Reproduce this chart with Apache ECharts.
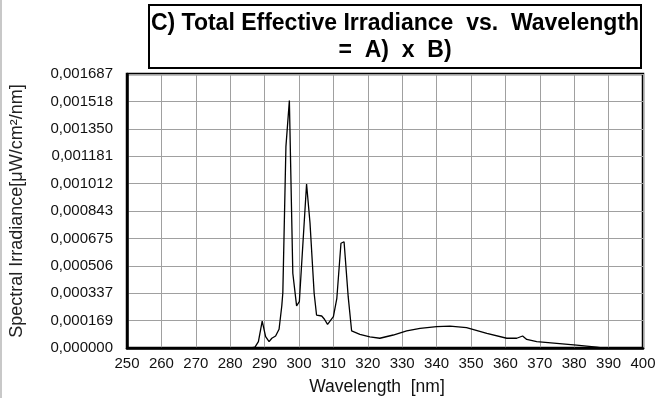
<!DOCTYPE html>
<html>
<head>
<meta charset="utf-8">
<script src="https://cdn.jsdelivr.net/npm/echarts@6/dist/echarts.min.js"></script>
<style>
  html, body { margin: 0; padding: 0; background: #fff; }
  #chart { width: 659px; height: 398px; }
</style>
</head>
<body>
<div id="chart"></div>
<script>
// wavelength [nm] and effective irradiance
const wavelengths = [286, 287.2, 288.2, 289.3, 290.3, 291.3, 292.1, 293.2, 294.2, 295.0, 295.3,
  296.2, 297.2, 298.2, 299.3, 300.1, 302.2, 303.2, 304.4, 305.1, 306.6, 307.4, 308.3,
  310.0, 311.0, 312.2, 313.1, 314.3, 315.3, 317.7, 320.6, 323.5, 327.4, 331.3, 335.2,
  340.0, 343.9, 348.7, 354.6, 360.4, 363.3, 365.0, 366.2, 369.1, 374.9, 380.7, 386.5, 388];
const irradiance = [0, 0.000005, 0.000039, 0.000166, 0.00007, 0.000039, 0.00006, 0.000074, 0.000115, 0.00026, 0.00034,
  0.00124, 0.001523, 0.00046, 0.000259, 0.000285, 0.00101, 0.00077, 0.000337, 0.000203, 0.000197, 0.000177, 0.000146,
  0.000193, 0.000306, 0.000645, 0.000654, 0.000316, 0.000105, 0.000084, 0.000068, 0.00006, 0.00008, 0.000105, 0.000121,
  0.000131, 0.000135, 0.000126, 0.00009, 0.00006, 0.00006, 0.000074, 0.000053, 0.000039, 0.000029, 0.000018, 0.000006, 0];

const yTickLabels = ["0,000000", "0,000169", "0,000337", "0,000506", "0,000675", "0,000843",
  "0,001012", "0,001181", "0,001350", "0,001518", "0,001687"];
const yStep = 0.0001687;

const chart = echarts.init(document.getElementById("chart"));

chart.setOption({
  animation: false,
  title: {
    text: "C) Total Effective Irradiance  vs.  Wavelength\n=  A)  x  B)",
    left: 393,
    top: 5,
    textAlign: "center",
    padding: [5, 2, 4, 2],
    borderWidth: 2,
    borderColor: "#000",
    textStyle: {
      fontFamily: "Liberation Sans",
      fontWeight: "bold",
      fontSize: 23,
      lineHeight: 27,
      color: "#000"
    }
  },
  graphic: [
    { type: "rect", left: 0, top: 0, shape: { width: 2, height: 398 }, style: { fill: "#c8c8c8" } }
  ],
  grid: {
    left: 127,
    right: 16,
    top: 74,
    bottom: 50,
    outerBoundsMode: "none",
    show: true,
    borderColor: "#000",
    borderWidth: 2.5,
    backgroundColor: "#fff"
  },
  xAxis: {
    type: "value",
    min: 250,
    max: 400,
    interval: 10,
    name: "Wavelength  [nm]",
    nameLocation: "middle",
    nameGap: 30,
    nameTextStyle: { fontFamily: "Liberation Sans", fontSize: 17.5, color: "#111", padding: [0, 16, 0, 0] },
    axisLine: { show: true, lineStyle: { color: "#000", width: 2.5 } },
    axisTick: { show: false },
    axisLabel: { fontFamily: "Liberation Sans", fontSize: 15, color: "#111", margin: 8 },
    splitLine: { show: true, lineStyle: { color: "#a0a0a0", width: 1 } }
  },
  yAxis: {
    type: "value",
    min: 0,
    max: yStep * 10,
    interval: yStep,
    name: "Spectral Irradiance[\u03bcW/cm\u00b2/nm]",
    nameLocation: "middle",
    nameGap: 101,
    nameTextStyle: { fontFamily: "Liberation Sans", fontSize: 18, color: "#222" },
    axisLine: { show: true, lineStyle: { color: "#000", width: 2.5 } },
    axisTick: { show: false },
    axisLabel: {
      fontFamily: "Liberation Sans",
      fontSize: 15,
      color: "#111",
      margin: 14,
      formatter: (v, i) => yTickLabels[i]
    },
    splitLine: { show: true, lineStyle: { color: "#a0a0a0", width: 1 } }
  },
  series: [
    {
      type: "line",
      data: wavelengths.map((w, i) => [w, irradiance[i]]),
      showSymbol: false,
      lineStyle: { color: "#000", width: 1.3 },
      z: 5
    }
  ]
});
</script>
</body>
</html>
